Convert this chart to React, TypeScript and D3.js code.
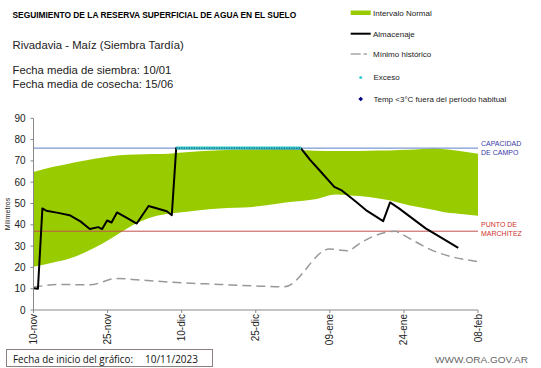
import React from "react";
import * as d3 from "d3";

// dias desde el 10-nov-2023
const tickLabels = ["10-nov", "25-nov", "10-dic", "25-dic", "09-ene", "24-ene", "08-feb"];
const tickDays = [0, 15, 30, 45, 60, 75, 90];
const yTicks = [0, 10, 20, 30, 40, 50, 60, 70, 80, 90];

const bandDays = [0, 4, 7.3, 10.7, 14, 17.4, 20.7, 24.1, 27.5, 29.5, 37.6, 44.3, 49.7, 52.4, 57, 61.2, 64, 67.9, 72, 76, 81.4, 82.7, 86, 90];
const bandUpper = [64.8, 67.2, 68.8, 70.3, 71.6, 72.7, 73, 73.2, 73.4, 73.8, 75, 75.3, 75.4, 75.2, 74.8, 74.6, 74.6, 74.8, 74.9, 75.2, 75.8, 75.6, 74.8, 73.4];
const bandLower = [20.3, 22.3, 24.2, 27.3, 31.2, 36, 40.6, 43.7, 45.3, 45.8, 47.7, 48.4, 50, 50.8, 52, 54.2, 53.8, 53.1, 51.5, 49.2, 46.8, 46.1, 45.2, 44.2];

const almDays = [0, 0.9, 1.8, 2.6, 5, 7.3, 9.5, 11.4, 13.1, 13.9, 14.9, 15.8, 16.9, 18.9, 20.9, 23.3, 27, 28, 28.9, 54.2, 56, 57.9, 60.9, 62.3, 65.3, 67.3, 70.8, 72.2, 74, 79.4, 82.8, 86];
const almValues = [10.2, 10, 47.7, 46.6, 45.6, 44.5, 41.6, 38, 38.9, 38, 42, 41.1, 45.8, 43.2, 40.6, 48.8, 46.4, 44.5, 76.1, 75.8, 70.5, 65.6, 57.8, 56.3, 50.8, 46.9, 41.7, 50.5, 47.7, 38.3, 33.6, 29.2];

const minDays = [0, 6, 11.4, 16.8, 21.5, 28.2, 37.7, 45.8, 50.8, 59.9, 63.6, 66, 68.6, 73.4, 74, 81.5, 90];
const minValues = [10.8, 12, 11.8, 14.8, 14.1, 13, 12, 11.2, 10.9, 28.6, 27.8, 31.2, 34.4, 37, 36.3, 27.3, 22.7];

const excesoDays = [28.9, 54.2];
const excesoValues = [76, 76];

const capacidadCampo = 76;
const puntoMarchitez = 37;

const font = "'Liberation Sans', Arial, sans-serif";

const App = () => {
  const width = 541;
  const height = 368;

  const x = d3.scaleLinear().domain([0, 90]).range([33.5, 478]);
  const y = d3.scaleLinear().domain([0, 90]).range([310, 118.3]);

  const band = d3
    .area<number>()
    .x((d) => x(bandDays[d]))
    .y0((d) => y(bandLower[d]))
    .y1((d) => y(bandUpper[d]))
    .curve(d3.curveMonotoneX);

  const alm = d3
    .line<number>()
    .x((d) => x(almDays[d]))
    .y((d) => y(almValues[d]));

  const minimo = d3
    .line<number>()
    .x((d) => x(minDays[d]))
    .y((d) => y(minValues[d]))
    .curve(d3.curveMonotoneX);

  const exceso = d3
    .line<number>()
    .x((d) => x(excesoDays[d]))
    .y((d) => y(excesoValues[d]));

  const idx = (a: number[]) => a.map((_, i) => i);

  return (
    <svg
      width={width}
      height={height}
      viewBox={`0 0 ${width} ${height}`}
      style={{ position: "absolute", left: 0, top: 0, background: "#fff" }}
      fontFamily={font}
    >
      {/* titulos */}
      <text x={12.5} y={18} fontSize={8.4} fontWeight="bold" fill="#000">
        SEGUIMIENTO DE LA RESERVA SUPERFICIAL DE AGUA EN EL SUELO
      </text>
      <text x={12.5} y={49} fontSize={11.3} fill="#222">
        Rivadavia - Maíz (Siembra Tardía)
      </text>
      <text x={12.5} y={74} fontSize={11.3} fill="#222">
        Fecha media de siembra: 10/01
      </text>
      <text x={12.5} y={87.5} fontSize={11.3} fill="#222">
        Fecha media de cosecha: 15/06
      </text>

      {/* leyenda */}
      <g fontSize={8} fill="#222">
        <rect x={350.7} y={10.5} width={20} height={4.5} fill="#99cc00" />
        <text x={373} y={15.5}>Intervalo Normal</text>
        <line x1={350.7} x2={370.7} y1={33.7} y2={33.7} stroke="#000" strokeWidth={2} />
        <text x={373} y={37}>Almacenaje</text>
        <line x1={350.7} x2={360.7} y1={54} y2={54} stroke="#999" strokeWidth={1.3} />
        <line x1={363.5} x2={367} y1={54} y2={54} stroke="#999" strokeWidth={1.3} />
        <text x={373} y={57}>Mínimo histórico</text>
        <circle cx={360.7} cy={77.5} r={1.5} fill="#33cccc" />
        <text x={373.5} y={80}>Exceso</text>
        <path d="M360.7,96.7 L363,99 L360.7,101.3 L358.4,99 Z" fill="#000080" />
        <text x={373.5} y={102}>Temp &lt;3°C fuera del período habitual</text>
      </g>

      {/* banda normal */}
      <path d={band(idx(bandDays)) ?? ""} fill="#99cc00" />

      {/* referencias */}
      <line x1={x(0)} x2={x(90)} y1={y(capacidadCampo)} y2={y(capacidadCampo)} stroke="#5b7fc7" strokeWidth={1} />
      <line x1={x(0)} x2={x(90)} y1={y(puntoMarchitez)} y2={y(puntoMarchitez)} stroke="#c0504d" strokeWidth={1} />
      <g fontSize={7}>
        <text x={481} y={145.5} fill="#3a3aa8">CAPACIDAD</text>
        <text x={481} y={155} fill="#3a3aa8">DE  CAMPO</text>
        <text x={481} y={227} fill="#d03030">PUNTO  DE</text>
        <text x={481} y={236} fill="#d03030">MARCHITEZ</text>
      </g>

      {/* minimo historico */}
      <path d={minimo(idx(minDays)) ?? ""} fill="none" stroke="#999" strokeWidth={1.5} strokeDasharray="9,5" />

      {/* almacenaje */}
      <path d={alm(idx(almDays)) ?? ""} fill="none" stroke="#000" strokeWidth={2} strokeLinejoin="round" />

      {/* exceso */}
      <path d={exceso(idx(excesoDays)) ?? ""} fill="none" stroke="#33cccc" strokeWidth={3} />
      <path d={exceso(idx(excesoDays)) ?? ""} fill="none" stroke="#1a3a6a" strokeWidth={1} strokeDasharray="1.2,1.3" />

      {/* ejes */}
      <line x1={x(0)} x2={x(0)} y1={y(90)} y2={y(0)} stroke="#888" strokeWidth={1} />
      <line x1={x(0)} x2={x(90)} y1={y(0)} y2={y(0)} stroke="#888" strokeWidth={1} />
      {yTicks.map((t) => (
        <g key={t}>
          <line x1={x(0) - 3} x2={x(0)} y1={y(t)} y2={y(t)} stroke="#888" />
          <text x={x(0) - 8} y={y(t) + 3.5} fontSize={10} textAnchor="end" fill="#222">
            {t}
          </text>
        </g>
      ))}
      {tickDays.map((d, i) => (
        <g key={d}>
          <line x1={x(d)} x2={x(d)} y1={y(0)} y2={y(0) + 3} stroke="#888" />
          <text
            transform={`translate(${x(d) + 3.5},${y(0) + 4}) rotate(-90)`}
            fontSize={10}
            textAnchor="end"
            fill="#222"
          >
            {tickLabels[i]}
          </text>
        </g>
      ))}
      <text transform={`translate(10,214) rotate(-90)`} fontSize={7} textAnchor="middle" fill="#222">
        Milímetros
      </text>

      {/* pie */}
      <rect x={6.5} y={349.5} width={206} height={17} fill="#fff" stroke="#8c7f7f" strokeWidth={1} />
      <text x={13} y={362.5} fontSize={10.5} fill="#111" fontFamily="'Open Sans', 'Noto Sans', sans-serif" textLength={120} lengthAdjust="spacingAndGlyphs">
        Fecha de inicio del gráfico:
      </text>
      <text x={145} y={362.5} fontSize={10.5} fill="#111" fontFamily="'Open Sans', 'Noto Sans', sans-serif" textLength={53} lengthAdjust="spacingAndGlyphs">
        10/11/2023
      </text>
      <text x={435} y={363} fontSize={9.5} fill="#666" textLength={93} lengthAdjust="spacingAndGlyphs">
        WWW.ORA.GOV.AR
      </text>
    </svg>
  );
};

export default App;
